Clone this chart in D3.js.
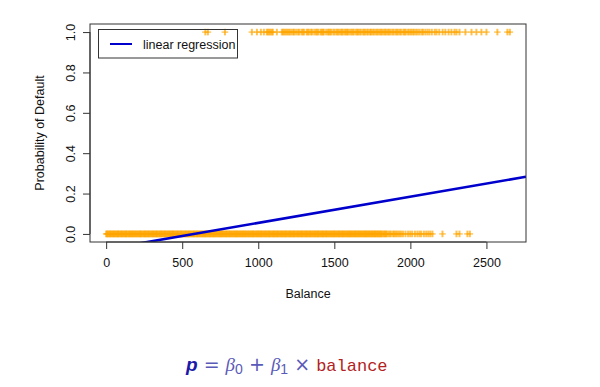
<!DOCTYPE html>
<html><head><meta charset="utf-8">
<script src="https://cdn.jsdelivr.net/npm/d3@7"></script>
<style>body{margin:0;background:#fff}svg{display:block}</style>
</head><body>
<script>
const xTicks = [0, 500, 1000, 1500, 2000, 2500];
const yTicks = [0.0, 0.2, 0.4, 0.6, 0.8, 1.0];
const yTickLabels = ["0.0", "0.2", "0.4", "0.6", "0.8", "1.0"];
const xDomain = [0, 2654];
const regression = {b0: -0.0752, b1: 0.0001299};
const legendLabel = "linear regression";
const xTitle = "Balance";
const yTitle = "Probability of Default";
// balances of non-defaulters (Default = 0)
const balanceNo = [0,5,9,15,21,26,30,36,42,47,51,57,63,68,74,78,82,88,95,99,104,110,116,121,127,131,135,141,148,152,157,163,169,173,178,184,190,195,201,206,212,217,223,227,231,237,244,249,255,259,264,270,276,280,285,291,297,302,308,313,318,324,329,333,338,344,350,355,361,365,370,376,382,386,391,397,403,408,414,419,424,430,435,439,444,450,456,461,467,471,476,482,488,492,497,503,509,514,520,525,530,536,541,545,550,556,562,567,573,577,582,588,594,598,603,609,615,620,626,631,636,642,647,651,656,662,668,673,679,683,688,694,700,704,709,715,721,726,732,737,742,748,753,757,762,768,774,779,785,789,794,800,806,810,815,821,827,832,838,843,848,854,859,863,868,874,880,885,891,895,900,906,912,916,921,927,933,938,944,949,954,960,965,969,974,980,986,991,997,1001,1006,1012,1018,1022,1027,1033,1039,1044,1050,1055,1060,1066,1071,1075,1080,1086,1092,1097,1103,1107,1112,1118,1124,1128,1133,1139,1145,1150,1156,1161,1166,1172,1177,1181,1186,1192,1198,1203,1209,1213,1218,1224,1230,1234,1239,1245,1251,1256,1262,1267,1272,1278,1283,1287,1292,1298,1304,1309,1315,1319,1324,1330,1336,1340,1345,1351,1357,1362,1368,1373,1378,1384,1389,1393,1398,1404,1410,1415,1421,1425,1430,1436,1442,1446,1451,1457,1463,1468,1474,1479,1484,1490,1495,1499,1504,1510,1516,1521,1527,1531,1536,1542,1548,1552,1557,1563,1569,1574,1580,1585,1590,1596,1601,1605,1610,1616,1622,1627,1633,1637,1642,1648,1654,1658,1663,1669,1675,1680,1686,1691,1696,1702,1707,1711,1716,1722,1728,1733,1739,1744,1748,1755,1760,1766,1769,1775,1781,1787,1792,1798,1802,1808,1813,1822,1828,1834,1840,1845,1856,1864,1872,1885,1893,1902,1910,1921,1930,1940,1952,1968,1985,1999,2012,2030,2046,2060,2071,2089,2104,2118,2131,2145,2211,2303,2323,2375,2391];
// balances of defaulters (Default = 1)
const balanceYes = [652,669,781,958,991,1017,1037,1056,1063,1072,1080,1089,1096,1122,1155,1163,1172,1180,1190,1199,1207,1218,1230,1236,1249,1262,1270,1285,1293,1301,1318,1325,1333,1347,1355,1369,1380,1388,1395,1410,1417,1425,1431,1446,1458,1464,1473,1480,1494,1502,1515,1521,1530,1542,1549,1556,1568,1575,1583,1590,1601,1612,1620,1628,1641,1650,1657,1666,1675,1689,1697,1704,1716,1723,1735,1741,1752,1760,1771,1780,1789,1799,1808,1815,1826,1835,1842,1853,1861,1870,1882,1890,1903,1911,1920,1932,1941,1955,1962,1970,1984,1993,2004,2015,2024,2037,2048,2060,2074,2083,2098,2112,2125,2141,2160,2172,2190,2212,2230,2251,2270,2290,2303,2323,2362,2402,2434,2467,2500,2572,2638,2654];

const W = 600, H = 387;
const box = {l: 90, r: 526, t: 24, b: 242};
const svg = d3.select("body").append("svg").attr("width", W).attr("height", H)
  .style("font-family", "'Liberation Sans', Arial, sans-serif");

const pad = (xDomain[1] - xDomain[0]) * 0.04;
const x = d3.scaleLinear().domain([xDomain[0] - pad, xDomain[1] + pad]).range([box.l, box.r]);
const y = d3.scaleLinear().domain([-0.04, 1.04]).range([box.b, box.t]);

svg.append("defs").append("clipPath").attr("id", "clip")
  .append("rect").attr("x", box.l).attr("y", box.t).attr("width", box.r - box.l).attr("height", box.b - box.t);

const pts = balanceNo.map(b => ({b, v: 0})).concat(balanceYes.map(b => ({b, v: 1})));
const pg = svg.append("g");
pg.selectAll("path.h").data(pts).join("path").attr("class", "h")
  .attr("d", d => `M${x(d.b) - 3.3},${y(d.v)}h6.6`)
  .attr("stroke", "orange").attr("stroke-opacity", 0.7).attr("stroke-width", 1.3).attr("fill", "none");
pg.selectAll("path.v").data(pts).join("path").attr("class", "v")
  .attr("d", d => `M${x(d.b)},${y(d.v) - 3.3}v6.6`)
  .attr("stroke", "orange").attr("stroke-opacity", 0.7).attr("stroke-width", 2).attr("fill", "none");

// regression line
const xd = x.domain();
svg.append("line").attr("clip-path", "url(#clip)")
  .attr("x1", x(xd[0])).attr("y1", y(regression.b0 + regression.b1 * xd[0]))
  .attr("x2", x(xd[1])).attr("y2", y(regression.b0 + regression.b1 * xd[1]))
  .attr("stroke", "#0000CD").attr("stroke-width", 2.6);

// box
svg.append("rect").attr("x", box.l).attr("y", box.t).attr("width", box.r - box.l).attr("height", box.b - box.t)
  .attr("fill", "none").attr("stroke", "#333").attr("stroke-width", 1);

// axes
const xAxis = svg.append("g").attr("transform", `translate(0,${box.b})`)
  .call(d3.axisBottom(x).tickValues(xTicks).tickSize(7).tickPadding(9).tickFormat(d3.format("d")));
const yAxis = svg.append("g").attr("transform", `translate(${box.l},0)`)
  .call(d3.axisLeft(y).tickValues(yTicks).tickSize(7).tickFormat((d, i) => yTickLabels[i]));
[xAxis, yAxis].forEach(a => {
  a.select(".domain").remove();
  a.selectAll(".tick line").attr("stroke", "#333");
  a.selectAll("text").attr("fill", "#111").style("font-size", "12.5px").style("font-family", "'Liberation Sans', Arial, sans-serif");
});
xAxis.append("line").attr("x1", x(xTicks[0])).attr("x2", x(xTicks[xTicks.length - 1])).attr("stroke", "#333");
yAxis.append("line").attr("y1", y(yTicks[0])).attr("y2", y(yTicks[yTicks.length - 1])).attr("stroke", "#333");
yAxis.selectAll(".tick text").attr("x", 0).attr("dy", 0).attr("text-anchor", "middle")
  .attr("transform", "translate(-18,0) rotate(-90)").attr("dominant-baseline", "middle");

svg.append("text").attr("x", (box.l + box.r) / 2 + 0).attr("y", 298).attr("text-anchor", "middle")
  .style("font-size", "12.5px").attr("fill", "#111").text(xTitle);
svg.append("text").attr("transform", `translate(44,${(box.t + box.b) / 2}) rotate(-90)`)
  .attr("text-anchor", "middle").style("font-size", "12.5px").attr("fill", "#111").text(yTitle);

// legend
const lg = svg.append("g");
lg.append("rect").attr("x", 98.5).attr("y", 29.5).attr("width", 139).attr("height", 28.5)
  .attr("fill", "none").attr("stroke", "#333");
lg.append("line").attr("x1", 110).attr("x2", 132).attr("y1", 44).attr("y2", 44)
  .attr("stroke", "#0000CD").attr("stroke-width", 2);
lg.append("text").attr("x", 143).attr("y", 48.5).style("font-size", "12.5px").attr("fill", "#111").text(legendLabel);

// formula
const f = svg.append("text").attr("x", 186).attr("y", 371).style("font-size", "19px");
f.append("tspan").text("p").attr("fill", "#1a1aa8").style("font-weight", "bold").style("font-style", "italic")
  .style("font-family", "'Liberation Sans', Arial, sans-serif");
const mathC = "#5a5ab8";
f.append("tspan").text(" = ").attr("fill", mathC).style("font-family", "'DejaVu Sans', sans-serif");
f.append("tspan").text("β").attr("fill", mathC).style("font-style", "italic").style("font-family", "'Liberation Serif', serif");
f.append("tspan").text("0").attr("fill", mathC).attr("dy", 3).style("font-size", "14px").style("font-family", "'Liberation Sans', sans-serif");
f.append("tspan").text(" + ").attr("dy", -3).attr("fill", mathC).style("font-family", "'DejaVu Sans', sans-serif");
f.append("tspan").text("β").attr("fill", mathC).style("font-style", "italic").style("font-family", "'Liberation Serif', serif");
f.append("tspan").text("1").attr("fill", mathC).attr("dy", 3).style("font-size", "14px").style("font-family", "'Liberation Sans', sans-serif");
f.append("tspan").text(" × ").attr("dy", -3).attr("fill", mathC).style("font-family", "'DejaVu Sans', sans-serif");
f.append("tspan").text("balance").attr("fill", "#b22222").style("font-family", "'Liberation Mono', 'DejaVu Sans Mono', monospace").style("font-size", "17px");
</script>
</body></html>
